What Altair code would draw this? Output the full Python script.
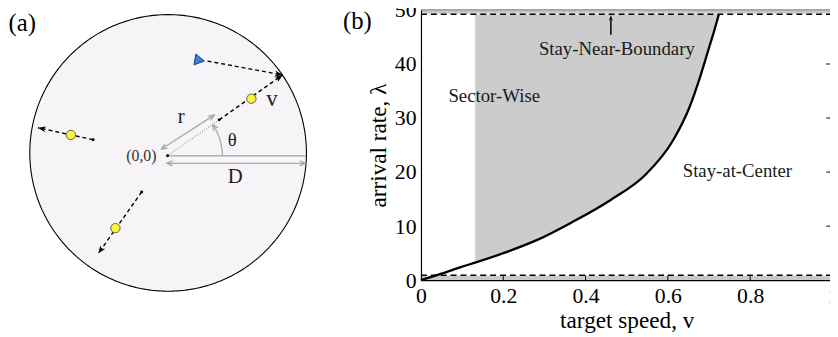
import math
import altair as alt
import pandas as pd

# ======================= Panel (a): the disk (radius D = 1) =======================
disk_center_u = 0.004
disk_center_w = 0.020
disk_radius = 1.0

tgt_start_u = [0.373, -0.539, -0.187]
tgt_start_w = [0.259, 0.116, -0.262]
tgt_pos_u = [0.606, -0.699, -0.377]
tgt_pos_w = [0.412, 0.150, -0.524]
tgt_end_u = [0.832, -0.937, -0.501]
tgt_end_w = [0.584, 0.202, -0.707]

pursuer_u = [0.232]
pursuer_w = [0.690]
pursuer_path_u = [0.289, 0.832]
pursuer_path_w = [0.684, 0.584]

origin_u = [0.0]
origin_w = [0.0]

r_arrow_u = [-0.044, 0.337]
r_arrow_w = [0.048, 0.293]
d_axis_u = [0.0, 1.0]
d_axis_w = [0.0, 0.0]
d_arrow_u = [-0.004, 0.996]
d_arrow_w = [-0.055, -0.055]
theta_arc_r = 0.396
theta_arc_span = [0.0, 33.0]

center_text = ["r", "θ", "D", "v"]
center_text_u = [0.099, 0.468, 0.489, 0.754]
center_text_w = [0.279, 0.112, -0.157, 0.412]
center_text_size = [21, 19, 21, 23]

origin_label = ["(0,0)"]
origin_label_u = [-0.080]
origin_label_w = [0.0]

panel_a_label = ["(a)"]
panel_a_label_u = [-1.150]
panel_a_label_w = [0.957]

# ======================= Panel (b): phase diagram =======================
curve_v = [0.0, 0.05, 0.10, 0.1315, 0.20, 0.284, 0.364, 0.46, 0.548, 0.612, 0.652, 0.68, 0.70, 0.712, 0.724]
curve_lam = [0.0, 1.2, 2.5, 3.25, 5.0, 7.5, 10.6, 14.8, 19.7, 25.8, 31.9, 38.0, 43.0, 46.0, 49.2]
sector_edge_v = 0.1315
upper_dash_lam = 49.2
lower_dash_lam = 0.9
top_band = [49.35, 50.0]
bottom_band = [0.0, 0.8]
x_tick_values = [0, 0.2, 0.4, 0.6, 0.8, 1]
y_tick_values = [0, 10, 20, 30, 40, 50]
inner_x_ticks = [0.2, 0.4, 0.6, 0.8]
inner_y_ticks = [10, 20, 30, 40]
arrow_v = 0.4615
arrow_lam = [45.4, 49.0]
region_text = ["Sector-Wise", "Stay-Near-Boundary", "Stay-at-Center"]
region_v = [0.178, 0.476, 0.769]
region_lam = [34.1, 42.8, 20.1]

FONT = "Liberation Serif"
ARROW = "M0,0L-0.75,2L0,1.45L0.75,2Z"
CHEVRON = "M-0.8,1.8L0,0L0.8,1.8"


def heading(du, dw):
    return (math.degrees(math.atan2(du, dw)) + 360.0) % 360.0


# ---------- scales panel (a): 140 px per unit in both directions ----------
A_W, A_H = 327, 321
u_min = -1.1536
w_top = 1.0536
xs_a = alt.Scale(domain=[u_min, u_min + A_W / 140.0], nice=False, zero=False)
ys_a = alt.Scale(domain=[w_top - A_H / 140.0, w_top], nice=False, zero=False)


def XA(f):
    return alt.X(f, type="quantitative", scale=xs_a, axis=None)


def YA(f):
    return alt.Y(f, type="quantitative", scale=ys_a, axis=None)


# disk outline
ts = [math.pi * k / 180.0 for k in range(181)]
disk_df = pd.DataFrame({
    "u": [disk_center_u + disk_radius * math.cos(t) for t in ts],
    "top": [disk_center_w + disk_radius * math.sin(t) for t in ts],
    "bot": [disk_center_w - disk_radius * math.sin(t) for t in ts],
})
disk = alt.Chart(disk_df).mark_area(fill="#f6f4f6", stroke="black", strokeWidth=1.1).encode(
    x=XA("u"), y=YA("top"), y2="bot")

daxis_df = pd.DataFrame({"u": d_axis_u, "w": d_axis_w})
daxis = alt.Chart(daxis_df).mark_line(color="#b0b0b0", strokeWidth=1.6).encode(x=XA("u"), y=YA("w"))

dot_df = pd.DataFrame({"u": [origin_u[0], tgt_start_u[0]], "w": [origin_w[0], tgt_start_w[0]]})
dotted = alt.Chart(dot_df).mark_line(color="#666666", strokeWidth=0.8, strokeDash=[1, 1.5]).encode(
    x=XA("u"), y=YA("w"))

gray_lines = []
gray_heads = []
for k, (uu, ww) in enumerate([(r_arrow_u, r_arrow_w), (d_arrow_u, d_arrow_w)]):
    for i in range(2):
        gray_lines.append({"id": k, "u": uu[i], "w": ww[i]})
    gray_heads.append({"u": uu[1], "w": ww[1], "ang": heading(uu[1] - uu[0], ww[1] - ww[0])})
    gray_heads.append({"u": uu[0], "w": ww[0], "ang": heading(uu[0] - uu[1], ww[0] - ww[1])})

arc_pts = [theta_arc_span[0] + (theta_arc_span[1] - theta_arc_span[0]) * k / 30.0 for k in range(31)]
for a in arc_pts:
    gray_lines.append({"id": 2, "u": theta_arc_r * math.cos(math.radians(a)),
                       "w": theta_arc_r * math.sin(math.radians(a))})
a_end = math.radians(theta_arc_span[1] + 1.5)
gray_heads.append({"u": theta_arc_r * math.cos(a_end), "w": theta_arc_r * math.sin(a_end),
                   "ang": heading(-math.sin(a_end), math.cos(a_end))})

gl_df = pd.DataFrame(gray_lines)
gl_df["rank"] = range(len(gl_df))
gray_line_layer = alt.Chart(gl_df).mark_line(color="#a8a8a8", strokeWidth=1.3).encode(
    x=XA("u"), y=YA("w"), detail="id:N", order=alt.Order("rank:Q"))
gray_head_layer = alt.Chart(pd.DataFrame(gray_heads)).mark_point(
    shape=CHEVRON, filled=False, stroke="#a8a8a8", strokeWidth=1.3, size=40, opacity=1).encode(
    x=XA("u"), y=YA("w"), angle=alt.Angle("ang:Q", scale=None))

paths = []
heads = []
for i in range(3):
    paths.append({"id": i, "u": tgt_start_u[i], "w": tgt_start_w[i], "rank": 0})
    paths.append({"id": i, "u": tgt_end_u[i], "w": tgt_end_w[i], "rank": 1})
    heads.append({"u": tgt_end_u[i], "w": tgt_end_w[i],
                  "ang": heading(tgt_end_u[i] - tgt_start_u[i], tgt_end_w[i] - tgt_start_w[i])})
paths.append({"id": 3, "u": pursuer_path_u[0], "w": pursuer_path_w[0], "rank": 0})
paths.append({"id": 3, "u": pursuer_path_u[1], "w": pursuer_path_w[1], "rank": 1})
heads.append({"u": pursuer_path_u[1], "w": pursuer_path_w[1],
              "ang": heading(pursuer_path_u[1] - pursuer_path_u[0], pursuer_path_w[1] - pursuer_path_w[0])})

path_layer = alt.Chart(pd.DataFrame(paths)).mark_line(color="black", strokeWidth=1.4, strokeDash=[4, 3]).encode(
    x=XA("u"), y=YA("w"), detail="id:N", order=alt.Order("rank:Q"))
head_layer = alt.Chart(pd.DataFrame(heads)).mark_point(
    shape=ARROW, filled=True, color="black", size=64, opacity=1).encode(
    x=XA("u"), y=YA("w"), angle=alt.Angle("ang:Q", scale=None))

small_df = pd.DataFrame({"u": tgt_start_u + origin_u, "w": tgt_start_w + origin_w})
small_dots = alt.Chart(small_df).mark_point(shape="circle", filled=True, color="black", size=9, opacity=1).encode(
    x=XA("u"), y=YA("w"))

yellow_df = pd.DataFrame({"u": tgt_pos_u, "w": tgt_pos_w})
yellow = alt.Chart(yellow_df).mark_point(shape="circle", filled=True, fill="#f7f04d", stroke="#5a5a1a",
                                         strokeWidth=0.9, size=90, opacity=1).encode(x=XA("u"), y=YA("w"))

blue_df = pd.DataFrame({"u": pursuer_u, "w": pursuer_w})
blue = alt.Chart(blue_df).mark_point(shape="triangle-right", filled=True, fill="#3d7ee0", stroke="#1a2a50",
                                     strokeWidth=0.8, size=125, angle=10, opacity=1).encode(x=XA("u"), y=YA("w"))

ct_df = pd.DataFrame({"t": center_text, "u": center_text_u, "w": center_text_w, "s": center_text_size})
center_labels = alt.Chart(ct_df).mark_text(font=FONT, align="center", baseline="middle", color="#222222").encode(
    x=XA("u"), y=YA("w"), text="t:N", size=alt.Size("s:Q", scale=None))

ol_df = pd.DataFrame({"t": origin_label, "u": origin_label_u, "w": origin_label_w})
origin_text = alt.Chart(ol_df).mark_text(font=FONT, align="right", baseline="middle", fontSize=16,
                                         color="#333333").encode(x=XA("u"), y=YA("w"), text="t:N")

pa_df = pd.DataFrame({"t": panel_a_label, "u": panel_a_label_u, "w": panel_a_label_w})
pa_text = alt.Chart(pa_df).mark_text(font=FONT, align="left", baseline="middle", fontSize=25,
                                     color="black").encode(x=XA("u"), y=YA("w"), text="t:N")

panel_a = alt.layer(disk, daxis, dotted, gray_line_layer, gray_head_layer, path_layer, head_layer,
                    small_dots, yellow, blue, center_labels, origin_text, pa_text).properties(
    width=A_W, height=A_H)

# ---------- panel (b) ----------
B_W, B_H = 416.5, 273.5
xs_b = alt.Scale(domain=[0, 1], nice=False, zero=False)
ys_b = alt.Scale(domain=[0, 50], nice=False, zero=False)
ax_x = alt.Axis(title="target speed, v", values=x_tick_values, format="~g", ticks=False, grid=False,
                labelPadding=6, titlePadding=2, domainColor="black", domainWidth=1.2, zindex=3,
                labelFlush=False, labelOverlap=False)
ax_y = alt.Axis(title="arrival rate, λ", values=y_tick_values, ticks=False, grid=False,
                labelPadding=5, titlePadding=4, domainColor="black", domainWidth=1.2, zindex=3,
                labelOverlap=False)


def XB(f):
    return alt.X(f, type="quantitative", scale=xs_b, axis=ax_x)


def YB(f):
    return alt.Y(f, type="quantitative", scale=ys_b, axis=ax_y)


bands_df = pd.DataFrame({"v0": [0, 0], "v1": [1, 1], "l0": [top_band[0], bottom_band[0]],
                         "l1": [top_band[1], bottom_band[1]]})
bands = alt.Chart(bands_df).mark_rect(color="#c8c8c8").encode(x=XB("v0"), x2="v1", y=YB("l0"), y2="l1")
top_edge = alt.Chart(pd.DataFrame({"v0": [0], "v1": [1], "l": [top_band[1]]})).mark_rule(
    color="#8a8a8a", strokeWidth=1.2).encode(x=XB("v0"), x2="v1", y=YB("l"))

curve_df = pd.DataFrame({"v": curve_v, "lam": curve_lam})
region_df = curve_df[curve_df["v"] >= sector_edge_v].copy()
region_df["top"] = upper_dash_lam
region = alt.Chart(region_df).mark_area(color="#cccccc", interpolate="monotone").encode(
    x=XB("v"), y=YB("lam"), y2="top")
edge_df = pd.DataFrame({"v": [sector_edge_v], "l0": [curve_lam[3]], "l1": [upper_dash_lam]})
edge = alt.Chart(edge_df).mark_rule(color="#e6e6e6", strokeWidth=1, strokeDash=[2, 2]).encode(
    x=XB("v"), y=YB("l0"), y2="l1")

xt_df = pd.DataFrame({"v": inner_x_ticks, "l0": [0] * 4, "l1": [lower_dash_lam] * 4})
xticks = alt.Chart(xt_df).mark_rule(color="black", strokeWidth=1).encode(x=XB("v"), y=YB("l0"), y2="l1")
yt_df = pd.DataFrame({"v0": [0.985] * 4, "v1": [1.0] * 4, "l": inner_y_ticks})
yticks = alt.Chart(yt_df).mark_rule(color="black", strokeWidth=1).encode(x=XB("v0"), x2="v1", y=YB("l"))

dash_df = pd.DataFrame({"v0": [0, 0], "v1": [1, 1], "l": [upper_dash_lam, lower_dash_lam]})
dashes = alt.Chart(dash_df).mark_rule(color="black", strokeWidth=1.6, strokeDash=[6, 4]).encode(
    x=XB("v0"), x2="v1", y=YB("l"))

curve = alt.Chart(curve_df).mark_line(color="black", strokeWidth=2.3, interpolate="monotone").encode(
    x=XB("v"), y=YB("lam"))

arr_df = pd.DataFrame({"v": [arrow_v], "l0": [arrow_lam[0]], "l1": [arrow_lam[1] - 0.8]})
arr_line = alt.Chart(arr_df).mark_rule(color="black", strokeWidth=1.5).encode(x=XB("v"), y=YB("l0"), y2="l1")
arr_head = alt.Chart(pd.DataFrame({"v": [arrow_v], "l": [arrow_lam[1]]})).mark_point(
    shape=ARROW, filled=True, color="black", size=30, opacity=1).encode(x=XB("v"), y=YB("l"))

rt_df = pd.DataFrame({"t": region_text, "v": region_v, "lam": region_lam})
region_labels = alt.Chart(rt_df).mark_text(font=FONT, fontSize=19, align="center", baseline="middle",
                                           color="#1a1a1a").encode(x=XB("v"), y=YB("lam"), text="t:N")

pb_label = alt.Chart(pd.DataFrame({"t": ["(b)"]})).mark_text(
    font=FONT, fontSize=25, align="left", baseline="middle", color="black").encode(
    x=alt.value(-79), y=alt.value(11.5), text="t:N")

panel_b = alt.layer(bands, top_edge, region, edge, xticks, yticks, dashes, curve, arr_line, arr_head,
                    region_labels, pb_label).properties(width=B_W, height=B_H)

chart = alt.hconcat(panel_a, panel_b, spacing=12).properties(
    padding={"left": 0, "top": -11, "right": -8, "bottom": 0}
).configure(font=FONT).configure_view(strokeWidth=0).configure_axis(
    labelFont=FONT, titleFont=FONT, labelFontSize=22, titleFontSize=23.5, labelColor="black",
    titleColor="black", titleFontWeight="normal")

chart.save("out.html", embed_options={"renderer": "svg", "actions": False})
